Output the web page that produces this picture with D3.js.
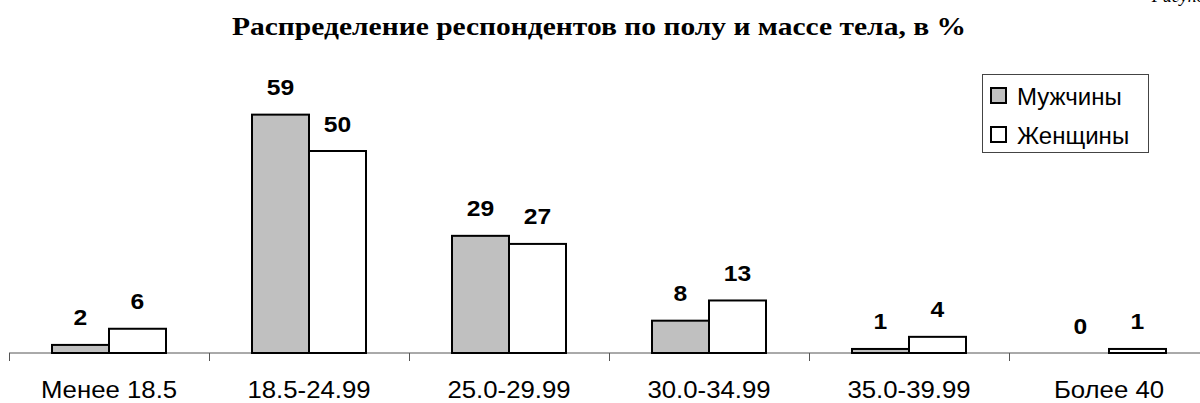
<!DOCTYPE html>
<html>
<head>
<meta charset="utf-8">
<script src="https://cdn.jsdelivr.net/npm/d3@7"></script>
<style>
  body { margin: 0; background: #fff; }
  svg { display: block; }
</style>
</head>
<body>
<svg id="chart" width="1200" height="403"></svg>
<script>
var categories = ["Менее 18.5", "18.5-24.99", "25.0-29.99", "30.0-34.99", "35.0-39.99", "Более 40"];
var seriesNames = ["Мужчины", "Женщины"];
var men = [2, 59, 29, 8, 1, 0];
var women = [6, 50, 27, 13, 4, 1];
var fills = ["#c0c0c0", "#ffffff"];

var width = 1200, height = 403;
var svg = d3.select("#chart");
var sans = "Liberation Sans, Arial, sans-serif";

// stretch text horizontally, the source picture is a bit wider than tall
function stretch(sel, k) {
    sel.each(function() {
        var w = this.getComputedTextLength();
        d3.select(this).attr("textLength", w * k).attr("lengthAdjust", "spacingAndGlyphs");
    });
}

var x0 = d3.scaleBand()
    .domain(categories)
    .range([9, 1209])
    .paddingInner(0.43)
    .paddingOuter(0.215);

var x1 = d3.scaleBand()
    .domain(seriesNames)
    .range([0, x0.bandwidth()]);

var y = d3.scaleLinear()
    .domain([0, 60])
    .range([353, 110.6]);

// title
svg.append("text")
    .attr("x", 599)
    .attr("y", 35)
    .attr("text-anchor", "middle")
    .attr("font-family", "Liberation Serif, Times New Roman, serif")
    .attr("font-weight", "bold")
    .attr("font-size", 25)
    .attr("textLength", 734)
    .attr("lengthAdjust", "spacingAndGlyphs")
    .text("Распределение респондентов по полу и массе тела, в %");

// caption cut by the top edge
svg.append("text")
    .attr("x", 1214)
    .attr("y", 2)
    .attr("text-anchor", "end")
    .attr("font-family", "Liberation Serif, Times New Roman, serif")
    .attr("font-style", "italic")
    .attr("font-size", 18)
    .text("Рисунок");

// category labels
var axis = svg.append("g")
    .attr("transform", "translate(0," + y(0) + ")")
    .call(d3.axisBottom(x0).tickSize(0).tickPadding(0));
axis.select(".domain").remove();
axis.selectAll("text")
    .attr("dy", null)
    .attr("y", 398 - y(0))
    .attr("font-family", sans)
    .attr("font-size", 23)
    .attr("fill", "#000")
    .call(stretch, 1.12);

svg.append("line")
    .attr("x1", 9).attr("x2", width)
    .attr("y1", y(0)).attr("y2", y(0))
    .attr("stroke", "#555").attr("stroke-width", 1);

var step = x0.step();
categories.forEach(function(c) {
    var bx = Math.round(x0(c) - step * x0.paddingOuter()) + 0.5;
    svg.append("line")
        .attr("x1", bx).attr("x2", bx)
        .attr("y1", y(0)).attr("y2", y(0) + 8)
        .attr("stroke", "#555");
});

// bars
var allSeries = [men, women];
for (var s = 0; s < allSeries.length; s++) {
    for (var i = 0; i < categories.length; i++) {
        var v = allSeries[s][i];
        var bx = x0(categories[i]) + x1(seriesNames[s]);
        if (v > 0) {
            svg.append("rect")
                .attr("x", bx)
                .attr("y", y(v))
                .attr("width", x1.bandwidth())
                .attr("height", y(0) - y(v))
                .attr("fill", fills[s])
                .attr("stroke", "#000")
                .attr("stroke-width", 2);
        }
        svg.append("text")
            .attr("x", bx + x1.bandwidth() / 2)
            .attr("y", y(v) - 19.5)
            .attr("text-anchor", "middle")
            .attr("font-family", sans)
            .attr("font-weight", "bold")
            .attr("font-size", 22)
            .text(v)
            .call(stretch, 1.12);
    }
}

// legend
var legend = svg.append("g");
legend.append("rect")
    .attr("x", 982.5).attr("y", 74.5)
    .attr("width", 166).attr("height", 78)
    .attr("fill", "#fff")
    .attr("stroke", "#444")
    .attr("stroke-width", 1);
seriesNames.forEach(function(n, k) {
    legend.append("rect")
        .attr("x", 991).attr("y", 88 + k * 39)
        .attr("width", 15).attr("height", 15)
        .attr("fill", fills[k])
        .attr("stroke", "#000")
        .attr("stroke-width", 2);
    legend.append("text")
        .attr("x", 1017).attr("y", 105 + k * 38.5)
        .attr("font-family", sans)
        .attr("font-size", 24)
        .text(n);
});
</script>
</body>
</html>
